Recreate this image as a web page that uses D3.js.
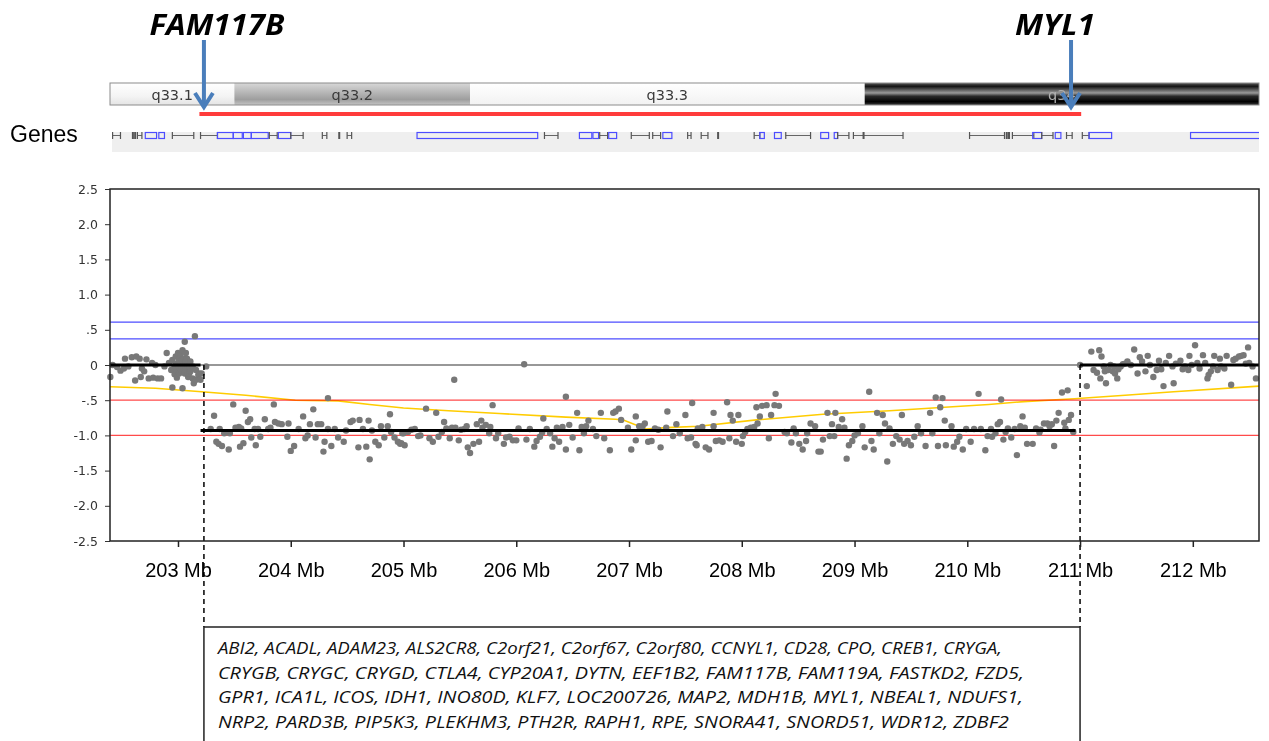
<!DOCTYPE html>
<html>
<head>
<meta charset="utf-8">
<script src="https://cdn.jsdelivr.net/npm/d3@7"></script>
<style>
body { margin: 0; background: #fff; }
svg { display: block; }
</style>
</head>
<body>
<div id="chart"></div>
<script>
// ---- data ----
var xTicks = [203, 204, 205, 206, 207, 208, 209, 210, 211, 212];
var yTicks = [2.5, 2.0, 1.5, 1.0, 0.5, 0, -0.5, -1.0, -1.5, -2.0, -2.5];
var yTickLabels = ["2.5", "2.0", "1.5", "1.0", ".5", "0", "-.5", "-1.0", "-1.5", "-2.0", "-2.5"];

// cytoband ideogram (Mb)
var bandNames = ["q33.1", "q33.2", "q33.3", "q34"];
var bandStart = [202.397, 203.50, 205.59, 209.09];
var bandEnd = [203.50, 205.59, 209.09, 212.587];

// deleted region + breakpoint genes
var deletionStart = 203.19, deletionEnd = 211.01;
var markGenes = ["FAM117B", "MYL1"];
var markPos = [203.23, 210.92];

// thresholds
var blueLines = [0.61, 0.37];
var redLines = [-0.5, -1.0];

// segmentation
var segStart = [202.397, 203.20, 211.00];
var segEnd = [203.20, 210.96, 212.587];
var segMean = [0, -0.93, 0];
var breakpoints = [203.23, 211.00];

// yellow smoothing line
var trendMb = [202.397, 202.80, 203.21, 203.60, 204.04, 204.42, 204.70, 205.00, 205.40, 205.85, 206.44, 206.88, 206.95,
    207.15, 207.33, 207.62, 208.13, 208.72, 209.31, 209.80, 210.19, 210.50, 210.95, 211.40, 211.83, 212.587];
var trendVal = [-0.31, -0.33, -0.38, -0.43, -0.50, -0.51, -0.56, -0.61, -0.65, -0.69, -0.74, -0.77, -0.78,
    -0.91, -0.89, -0.87, -0.78, -0.70, -0.65, -0.60, -0.56, -0.52, -0.48, -0.43, -0.38, -0.30];

// probes: [Mb, log2 ratio]
var probesLeft = [
    [202.40, -0.17], [202.42, 0.00], [202.46, -0.03], [202.49, -0.08], [202.52, -0.05], [202.53, 0.09], [202.56, -0.02],
    [202.59, 0.11], [202.62, -0.22], [202.63, 0.12], [202.66, 0.09], [202.67, -0.17], [202.68, -0.05], [202.70, -0.09],
    [202.72, 0.08], [202.74, -0.19], [202.77, 0.03], [202.78, -0.18], [202.80, 0.00], [202.82, -0.19], [202.85, -0.19],
    [202.88, -0.02], [202.90, 0.17], [202.92, 0.03], [202.94, -0.07], [202.95, -0.32], [202.95, 0.07], [202.97, -0.02],
    [202.97, -0.13], [202.98, 0.12], [202.98, 0.02], [202.99, -0.18], [202.99, -0.07], [203.00, 0.17], [203.01, 0.07],
    [203.01, -0.03], [203.01, -0.12], [203.02, 0.14], [203.02, 0.02], [203.03, -0.07], [203.04, 0.21], [203.04, 0.07],
    [203.04, -0.33], [203.05, 0.09], [203.05, 0.00], [203.06, -0.12], [203.06, 0.33], [203.07, 0.17], [203.07, 0.05],
    [203.07, -0.07], [203.08, 0.09], [203.09, 0.01], [203.09, -0.17], [203.10, -0.02], [203.10, -0.12], [203.11, -0.09],
    [203.11, 0.05], [203.13, -0.19], [203.13, -0.02], [203.14, -0.26], [203.15, 0.41], [203.16, -0.07], [203.16, -0.21],
    [203.18, -0.14], [203.19, -0.12], [203.20, -0.21], [203.21, -0.12], [203.25, -0.02]
];
var probesLoss = [
    [203.29, -0.91], [203.32, -0.72], [203.34, -1.09], [203.36, -1.12], [203.37, -0.91], [203.39, -1.15], [203.41, -0.97],
    [203.45, -1.20], [203.46, -0.97], [203.49, -0.56], [203.51, -0.89], [203.54, -0.88], [203.55, -1.16], [203.56, -0.90],
    [203.58, -1.11], [203.60, -0.65], [203.62, -0.81], [203.64, -0.77], [203.65, -1.03], [203.68, -0.91], [203.69, -1.14],
    [203.71, -0.91], [203.73, -1.02], [203.77, -0.77], [203.80, -0.91], [203.82, -0.89], [203.85, -0.56], [203.86, -0.81],
    [203.89, -0.83], [203.92, -0.84], [203.97, -1.02], [203.98, -0.83], [204.00, -1.22], [204.03, -1.15], [204.07, -0.91],
    [204.11, -0.73], [204.13, -1.04], [204.15, -1.00], [204.17, -0.84], [204.20, -0.63], [204.22, -1.03], [204.24, -0.84],
    [204.27, -0.84], [204.29, -1.23], [204.30, -1.09], [204.33, -0.91], [204.33, -0.47], [204.36, -1.15], [204.39, -0.91],
    [204.42, -1.03], [204.47, -1.09], [204.49, -0.93], [204.53, -0.81], [204.55, -0.79], [204.60, -1.17], [204.61, -0.78],
    [204.64, -0.91], [204.67, -1.16], [204.69, -0.79], [204.70, -1.34], [204.72, -0.93], [204.75, -1.09], [204.78, -1.14],
    [204.80, -0.87], [204.83, -1.03], [204.86, -0.87], [204.88, -0.70], [204.89, -0.95], [204.92, -1.03], [204.95, -1.09],
    [204.97, -1.12], [204.99, -0.97], [204.98, -1.11], [205.01, -1.14], [205.00, -0.97], [205.04, -0.95], [205.07, -0.92],
    [205.10, -0.91], [205.13, -1.01], [205.15, -1.00], [205.20, -0.62], [205.23, -1.04], [205.26, -1.09], [205.29, -0.68],
    [205.31, -1.02], [205.34, -0.95], [205.36, -0.81], [205.38, -0.90], [205.41, -1.04], [205.43, -0.89], [205.45, -0.21],
    [205.46, -0.89], [205.49, -1.07], [205.51, -0.92], [205.54, -0.91], [205.56, -0.87], [205.57, -1.17], [205.59, -1.25],
    [205.62, -1.12], [205.65, -0.84], [205.67, -1.09], [205.69, -0.79], [205.70, -0.89], [205.73, -0.85], [205.76, -0.97],
    [205.77, -0.88], [205.79, -0.57], [205.82, -1.04], [205.84, -0.97], [205.89, -1.12], [205.91, -1.03], [205.94, -1.02],
    [205.97, -1.07], [206.00, -1.07], [206.02, -0.90], [206.07, 0.01], [206.09, -1.06], [206.12, -0.91], [206.16, -1.16],
    [206.18, -1.08], [206.21, -1.02], [206.23, -0.96], [206.24, -0.76], [206.27, -0.91], [206.30, -0.97], [206.32, -1.16],
    [206.34, -1.04], [206.36, -0.89], [206.38, -1.09], [206.41, -0.88], [206.44, -1.20], [206.44, -0.45], [206.47, -0.85],
    [206.50, -1.03], [206.54, -0.68], [206.56, -1.21], [206.58, -0.88], [206.60, -0.97], [206.62, -0.87], [206.64, -0.79],
    [206.68, -0.91], [206.71, -1.01], [206.75, -0.68], [206.78, -1.04], [206.83, -1.21], [206.86, -0.68], [206.88, -0.66],
    [206.91, -0.62], [206.93, -0.78], [206.99, -0.89], [207.02, -1.20], [207.06, -1.07], [207.06, -0.73], [207.09, -0.87],
    [207.12, -0.87], [207.14, -0.83], [207.17, -1.09], [207.20, -1.08], [207.23, -0.90], [207.26, -0.92], [207.28, -1.17],
    [207.33, -0.89], [207.34, -0.66], [207.39, -1.01], [207.42, -0.84], [207.45, -0.97], [207.50, -0.71], [207.52, -1.04],
    [207.55, -1.03], [207.56, -0.54], [207.59, -1.12], [207.61, -0.90], [207.60, -1.14], [207.65, -0.88], [207.68, -1.17],
    [207.71, -1.20], [207.75, -0.68], [207.75, -0.87], [207.77, -1.08], [207.80, -1.07], [207.83, -1.09], [207.87, -0.53],
    [207.89, -1.04], [207.90, -0.71], [207.92, -0.79], [207.95, -1.09], [207.97, -0.71], [208.00, -1.12], [208.01, -1.01],
    [208.03, -0.95], [208.05, -0.91], [208.08, -0.89], [208.11, -0.88], [208.13, -0.60], [208.14, -0.83], [208.16, -0.73],
    [208.18, -0.58], [208.22, -0.57], [208.24, -1.04], [208.26, -0.71], [208.29, -0.57], [208.30, -0.41], [208.33, -0.58],
    [208.38, -0.95], [208.40, -0.97], [208.44, -1.10], [208.46, -0.90], [208.48, -0.97], [208.51, -1.12], [208.54, -1.20],
    [208.57, -1.08], [208.58, -0.97], [208.61, -0.83], [208.65, -0.87], [208.68, -1.23], [208.70, -1.23], [208.72, -1.06],
    [208.76, -0.68], [208.78, -1.01], [208.80, -0.84], [208.82, -1.01], [208.83, -0.68], [208.86, -0.88], [208.89, -0.77],
    [208.91, -0.89], [208.93, -1.33], [208.95, -1.14], [208.98, -1.08], [209.00, -1.00], [209.03, -0.97], [209.07, -0.87],
    [209.09, -1.17], [209.13, -0.38], [209.15, -1.08], [209.17, -1.20], [209.20, -0.68], [209.22, -0.97], [209.25, -0.71],
    [209.27, -0.83], [209.29, -1.37], [209.31, -0.90], [209.34, -1.12], [209.37, -1.01], [209.40, -1.06], [209.42, -0.71],
    [209.44, -1.12], [209.47, -1.08], [209.50, -1.14], [209.53, -1.02], [209.56, -0.87], [209.59, -0.97], [209.63, -1.15],
    [209.67, -0.68], [209.69, -0.97], [209.72, -0.46], [209.74, -1.15], [209.76, -0.60], [209.78, -0.47], [209.80, -0.79],
    [209.81, -1.14], [209.86, -0.87], [209.88, -1.16], [209.91, -1.09], [209.93, -1.02], [209.96, -1.20], [209.99, -0.91],
    [210.03, -1.09], [210.06, -0.91], [210.10, -0.41], [210.12, -0.91], [210.16, -1.21], [210.18, -1.01], [210.21, -0.91],
    [210.22, -1.02], [210.25, -0.97], [210.27, -0.84], [210.29, -0.81], [210.30, -0.49], [210.32, -1.06], [210.34, -0.95],
    [210.36, -0.90], [210.39, -1.03], [210.42, -0.91], [210.44, -1.28], [210.47, -0.87], [210.49, -0.73], [210.51, -0.89],
    [210.53, -1.12], [210.58, -1.12], [210.61, -0.90], [210.64, -0.96], [210.65, -0.92], [210.68, -0.83], [210.71, -0.83],
    [210.73, -0.87], [210.75, -0.84], [210.77, -1.15], [210.79, -0.79], [210.81, -0.68], [210.84, -0.39], [210.86, -0.82],
    [210.87, -0.90], [210.89, -0.36], [210.90, -0.78], [210.92, -0.71], [210.94, -0.95]
];
var probesRight = [
    [211.00, 0.00], [211.06, -0.30], [211.10, 0.19], [211.12, -0.07], [211.15, -0.11], [211.17, 0.21], [211.18, -0.19],
    [211.19, 0.12], [211.21, -0.02], [211.22, -0.09], [211.23, -0.26], [211.25, -0.07], [211.27, 0.00], [211.29, -0.09],
    [211.30, -0.02], [211.31, -0.12], [211.33, -0.19], [211.34, -0.06], [211.36, -0.02], [211.38, 0.01], [211.40, 0.02],
    [211.42, 0.05], [211.45, 0.00], [211.48, 0.22], [211.51, -0.12], [211.53, 0.11], [211.55, 0.05], [211.58, -0.09],
    [211.60, 0.13], [211.62, 0.00], [211.65, -0.17], [211.68, -0.07], [211.70, 0.06], [211.72, -0.06], [211.74, -0.30],
    [211.76, 0.03], [211.79, 0.13], [211.82, -0.02], [211.83, -0.26], [211.85, 0.02], [211.89, 0.06], [211.91, -0.06],
    [211.93, -0.02], [211.96, -0.07], [211.97, 0.13], [211.99, 0.00], [212.02, 0.28], [212.04, 0.03], [212.06, -0.05],
    [212.09, 0.14], [212.11, 0.03], [212.13, -0.19], [212.14, -0.14], [212.16, -0.09], [212.18, -0.02], [212.19, 0.13],
    [212.22, -0.07], [212.24, 0.09], [212.25, -0.02], [212.28, -0.05], [212.30, 0.13], [212.34, -0.28], [212.36, 0.07],
    [212.38, 0.09], [212.41, 0.12], [212.43, 0.13], [212.45, 0.14], [212.47, 0.02], [212.49, 0.25], [212.50, 0.03],
    [212.53, -0.02], [212.56, -0.19]
];

// RefSeq gene glyphs: l = intron line, b = exon box, t = tick
var geneStart = [202.42, 202.60, 202.62, 202.64, 202.71, 202.83, 202.95, 203.20, 203.35, 203.49, 203.58, 203.65, 203.81,
    203.89, 204.00, 204.28, 204.43, 204.50, 205.12, 206.25, 206.56, 206.68, 206.74, 206.82, 207.02, 207.21, 207.30, 207.52,
    207.64, 207.79, 208.11, 208.16, 208.29, 208.39, 208.70, 208.82, 208.85, 208.99, 209.08, 210.02, 210.35, 210.37, 210.40,
    210.58, 210.66, 210.78, 210.88, 211.02, 211.08, 211.98];
var geneEnd = [202.49, 202.60, 202.62, 202.68, 202.81, 202.88, 203.14, 203.35, 203.49, 203.57, 203.65, 203.80, 203.88,
    204.00, 204.11, 204.32, 204.43, 204.54, 206.19, 206.37, 206.67, 206.73, 206.81, 206.89, 207.18, 207.28, 207.38, 207.55,
    207.70, 207.79, 208.16, 208.20, 208.35, 208.61, 208.77, 208.85, 208.95, 209.43, 209.08, 210.33, 210.35, 210.37, 210.59,
    210.66, 210.76, 210.83, 210.93, 211.08, 211.28, 212.65];
var geneType = ["l", "t", "t", "l", "b", "b", "l", "l", "b", "b", "b", "b", "l", "b", "l", "l", "t", "l", "b", "l", "b", "b",
    "l", "b", "l", "l", "b", "l", "l", "t", "l", "b", "b", "l", "b", "b", "l", "l", "t", "l", "t", "t", "l", "b", "l", "b",
    "l", "l", "b", "b"];

var deletedGenes = [
    "ABI2, ACADL, ADAM23, ALS2CR8, C2orf21, C2orf67, C2orf80, CCNYL1, CD28, CPO, CREB1, CRYGA,",
    "CRYGB, CRYGC, CRYGD, CTLA4, CYP20A1, DYTN, EEF1B2, FAM117B, FAM119A, FASTKD2, FZD5,",
    "GPR1, ICA1L, ICOS, IDH1, INO80D, KLF7, LOC200726, MAP2, MDH1B, MYL1, NBEAL1, NDUFS1,",
    "NRP2, PARD3B, PIP5K3, PLEKHM3, PTH2R, RAPH1, RPE, SNORA41, SNORD51, WDR12, ZDBF2"
];

// ---- layout ----
var W = 1269, H = 741;
var plot = { left: 110, right: 1259, top: 189, bottom: 541 };
var ideo = { top: 83, height: 22 };
var geneTrack = { top: 132, height: 20 };
var boxTop = 627;
var lineWidths = [784, 806, 805, 791];

var svg = d3.select("#chart").append("svg")
    .attr("width", W).attr("height", H);

var x = d3.scaleLinear().domain([202.397, 212.587]).range([plot.left, plot.right]);
var y = d3.scaleLinear().domain([-2.5, 2.5]).range([plot.bottom, plot.top]);

var defs = svg.append("defs");
function grad(id, stops) {
    var g = defs.append("linearGradient").attr("id", id)
        .attr("x1", 0).attr("y1", 0).attr("x2", 0).attr("y2", 1);
    stops.forEach(function(s) {
        g.append("stop").attr("offset", s[0]).attr("stop-color", s[1]);
    });
}
grad("b0", [[0, "#ffffff"], [0.6, "#f4f4f4"], [1, "#e4e4e4"]]);
grad("b1", [[0, "#d8d8d8"], [0.35, "#bdbdbd"], [0.75, "#9e9e9e"], [1, "#c4c4c4"]]);
grad("b2", [[0, "#ffffff"], [1, "#f2f2f2"]]);
grad("b3", [[0, "#5a5a5a"], [0.15, "#141414"], [0.45, "#9a9a9a"], [0.6, "#2a2a2a"], [0.85, "#000000"], [1, "#3a3a3a"]]);
defs.append("clipPath").attr("id", "trackclip").append("rect")
    .attr("x", plot.left).attr("y", 0).attr("width", plot.right - plot.left).attr("height", H);

// ---- ideogram ----
var ideoG = svg.append("g");
ideoG.selectAll("rect.band").data(bandNames).enter().append("rect")
    .attr("class", "band")
    .attr("x", function(d, i) { return x(bandStart[i]); })
    .attr("y", ideo.top)
    .attr("width", function(d, i) { return x(bandEnd[i]) - x(bandStart[i]); })
    .attr("height", ideo.height)
    .attr("fill", function(d, i) { return "url(#b" + i + ")"; });
ideoG.append("rect")
    .attr("x", plot.left).attr("y", ideo.top)
    .attr("width", plot.right - plot.left).attr("height", ideo.height)
    .attr("fill", "none").attr("stroke", "#8c8c8c").attr("stroke-width", 1);
ideoG.selectAll("text").data(bandNames).enter().append("text")
    .attr("x", function(d, i) { return (x(bandStart[i]) + x(bandEnd[i])) / 2; })
    .attr("y", ideo.top + 16.5)
    .attr("text-anchor", "middle")
    .attr("font-family", "DejaVu Sans, sans-serif")
    .attr("font-size", 14.5)
    .attr("fill", function(d, i) { return i == 3 ? "#b0b0b0" : "#3a3a3a"; })
    .text(function(d) { return d; });

// red bar over the deleted region
svg.append("rect")
    .attr("x", x(deletionStart)).attr("y", 112)
    .attr("width", x(deletionEnd) - x(deletionStart)).attr("height", 4)
    .attr("fill", "#ff3b3b");

// ---- gene track ----
svg.append("text")
    .attr("x", 10).attr("y", 142)
    .attr("font-family", "Liberation Sans, Arial, sans-serif")
    .attr("font-size", 23)
    .text("Genes");

var track = svg.append("g").attr("clip-path", "url(#trackclip)");
track.append("rect")
    .attr("x", plot.left + 2).attr("y", geneTrack.top)
    .attr("width", plot.right - plot.left - 2).attr("height", geneTrack.height)
    .attr("fill", "#efefef");
var gy = geneTrack.top + 3.5;
geneType.forEach(function(t, i) {
    var x0 = x(geneStart[i]), x1 = x(geneEnd[i]);
    if (t == "b") {
        track.append("rect")
            .attr("x", x0).attr("y", gy - 3)
            .attr("width", Math.max(3, x1 - x0)).attr("height", 6)
            .attr("fill", "none").attr("stroke", "#4d4dff").attr("stroke-width", 1.2);
    } else if (t == "t") {
        track.append("rect")
            .attr("x", x0 - 1).attr("y", gy - 3.5)
            .attr("width", 2).attr("height", 7)
            .attr("fill", "#555");
    } else {
        track.append("line")
            .attr("x1", x0).attr("x2", x1).attr("y1", gy).attr("y2", gy)
            .attr("stroke", "#666").attr("stroke-width", 1);
        [x0, x1].forEach(function(xx) {
            track.append("line")
                .attr("x1", xx).attr("x2", xx).attr("y1", gy - 3.5).attr("y2", gy + 3.5)
                .attr("stroke", "#555").attr("stroke-width", 1.2);
        });
    }
});

// ---- breakpoint arrows ----
var labelDx = [13, -16];
var labelW = [135, 80];
markGenes.forEach(function(name, i) {
    var ax = x(markPos[i]);
    svg.append("text")
        .attr("x", ax + labelDx[i]).attr("y", 35)
        .attr("text-anchor", "middle")
        .attr("font-family", "Open Sans, Liberation Sans, sans-serif")
        .attr("font-weight", "bold").attr("font-style", "italic")
        .attr("font-size", 28)
        .attr("textLength", labelW[i]).attr("lengthAdjust", "spacingAndGlyphs")
        .text(name);
    svg.append("line")
        .attr("x1", ax).attr("x2", ax).attr("y1", 40).attr("y2", 106)
        .attr("stroke", "#4a7ebb").attr("stroke-width", 4);
    svg.append("path")
        .attr("d", "M" + (ax - 9) + "," + 93 + "L" + ax + "," + 107 + "L" + (ax + 9) + "," + 93)
        .attr("fill", "none").attr("stroke", "#4a7ebb").attr("stroke-width", 4)
        .attr("stroke-linejoin", "miter");
});

// ---- CN plot ----
var plotG = svg.append("g");

plotG.selectAll("line.blue").data(blueLines).enter().append("line")
    .attr("x1", plot.left).attr("x2", plot.right)
    .attr("y1", function(d) { return y(d); }).attr("y2", function(d) { return y(d); })
    .attr("stroke", "#4d4dff").attr("stroke-width", 1.2);

plotG.append("line")
    .attr("x1", plot.left).attr("x2", plot.right)
    .attr("y1", y(0)).attr("y2", y(0))
    .attr("stroke", "#333").attr("stroke-width", 1.2);

var trendLine = d3.line()
    .x(function(d, i) { return x(trendMb[i]); })
    .y(function(d) { return y(d); });
plotG.append("path")
    .attr("d", trendLine(trendVal))
    .attr("fill", "none").attr("stroke", "#ffcc00").attr("stroke-width", 1.6);

plotG.selectAll("line.red").data(redLines).enter().append("line")
    .attr("x1", plot.left).attr("x2", plot.right)
    .attr("y1", function(d) { return y(d); }).attr("y2", function(d) { return y(d); })
    .attr("stroke", "#ff4a4a").attr("stroke-width", 1.2)
    .style("mix-blend-mode", "multiply");

var probes = probesLeft.concat(probesLoss, probesRight);
plotG.selectAll("circle").data(probes).enter().append("circle")
    .attr("cx", function(d) { return x(d[0]); })
    .attr("cy", function(d) { return y(d[1]); })
    .attr("r", 3.2)
    .attr("fill", "#787878");

plotG.selectAll("line.seg").data(segMean).enter().append("line")
    .attr("x1", function(d, i) { return x(segStart[i]); })
    .attr("x2", function(d, i) { return x(segEnd[i]); })
    .attr("y1", function(d) { return y(d); }).attr("y2", function(d) { return y(d); })
    .attr("stroke", "#000").attr("stroke-width", 3);

// dashed breakpoint lines down to the gene list
svg.selectAll("line.bp").data(breakpoints).enter().append("line")
    .attr("x1", function(d) { return x(d); }).attr("x2", function(d) { return x(d); })
    .attr("y1", y(0)).attr("y2", boxTop)
    .attr("stroke", "#000").attr("stroke-width", 1.5)
    .attr("stroke-dasharray", "5,4");

// axes
var yAxis = d3.axisLeft(y).tickValues(yTicks)
    .tickFormat(function(d, i) { return yTickLabels[i]; })
    .tickSize(5).tickPadding(7);
var gY = svg.append("g").attr("transform", "translate(" + plot.left + ",0)").call(yAxis);
gY.select(".domain").remove();
gY.selectAll("text").attr("font-family", "DejaVu Sans, sans-serif").attr("font-size", 12.5).attr("fill", "#333");
gY.selectAll("line").attr("stroke", "#333");

var xAxis = d3.axisBottom(x).tickValues(xTicks)
    .tickFormat(function(d) { return d + " Mb"; })
    .tickSize(6).tickPadding(16);
var gX = svg.append("g").attr("transform", "translate(0," + plot.bottom + ")").call(xAxis);
gX.select(".domain").remove();
gX.selectAll("text").attr("font-family", "Liberation Sans, Arial, sans-serif").attr("font-size", 20).attr("fill", "#000");
gX.selectAll("line").attr("stroke", "#222").attr("stroke-width", 1.5);

svg.append("rect")
    .attr("x", plot.left).attr("y", plot.top)
    .attr("width", plot.right - plot.left).attr("height", plot.bottom - plot.top)
    .attr("fill", "none").attr("stroke", "#222").attr("stroke-width", 1.5);

// ---- deleted gene list ----
var bx0 = x(breakpoints[0]), bx1 = x(breakpoints[1]);
svg.append("rect")
    .attr("x", bx0).attr("y", boxTop)
    .attr("width", bx1 - bx0).attr("height", 140)
    .attr("fill", "#fff").attr("stroke", "#222").attr("stroke-width", 1.5);
svg.selectAll("text.genes").data(deletedGenes).enter().append("text")
    .attr("class", "genes")
    .attr("x", bx0 + 14)
    .attr("y", function(d, i) { return 654 + i * 24.6; })
    .attr("font-family", "Liberation Sans Narrow, Open Sans, sans-serif")
    .attr("font-style", "italic")
    .attr("font-size", 17)
    .attr("fill", "#111")
    .attr("textLength", function(d, i) { return lineWidths[i]; })
    .attr("lengthAdjust", "spacingAndGlyphs")
    .text(function(d) { return d; });
</script>
</body>
</html>
